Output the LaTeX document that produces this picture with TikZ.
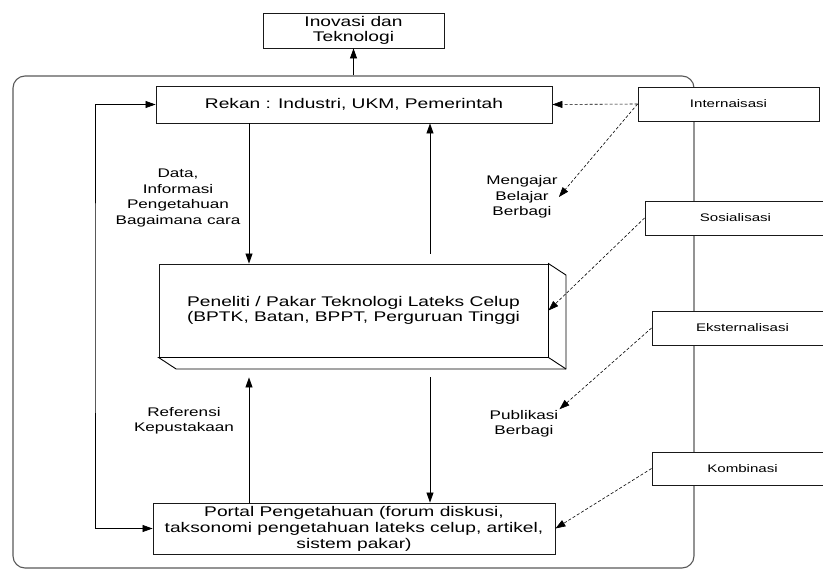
\documentclass[tikz,border=0pt]{standalone}
\usepackage{fontspec}
\setmainfont{Liberation Sans}[FakeStretch=1.37]
\usetikzlibrary{arrows.meta,calc}

\begin{document}
\begin{tikzpicture}[x=1pt,y=-1pt,
  >={Triangle[length=10pt,width=7pt]},
  box/.style={draw=black!90,line width=0.9pt,fill=white,inner sep=0pt,align=center,
    font=\fontsize{14}{15.5}\selectfont},
  sidebox/.style={draw=black!90,line width=0.9pt,fill=white,inner sep=0pt,
    minimum width=181pt,font=\fontsize{11}{13}\selectfont},
  lbl/.style={inner sep=1pt,align=center,font=\fontsize{12.5}{15.5}\selectfont},
  flow/.style={->,line width=0.8pt},
  hint/.style={->,line width=0.6pt,dash pattern=on 3pt off 2pt}]
\useasboundingbox (0,0) rectangle (823,570);
\clip (0,0) rectangle (823,570);

% enclosing frame
\node[draw=black!65,line width=1.1pt,rounded corners=12pt,minimum width=681pt,
  minimum height=492pt,inner sep=0pt] (frame) at (353.5,322) {};

% main boxes
\node[box,minimum width=181pt,minimum height=35pt] (inov) at (353.5,30.5)
  {Inovasi dan\\Teknologi};
\node[box,minimum width=396pt,minimum height=37pt] (rekan) at (354,104.5)
  {Rekan : Industri, UKM, Pemerintah};
\node[box,minimum width=389pt,minimum height=93pt] (pen) at (353.5,310.5)
  {Peneliti / Pakar Teknologi Lateks Celup\\(BPTK, Batan, BPPT, Perguruan Tinggi};
\node[box,minimum width=402pt,minimum height=51pt,font=\fontsize{14}{16}\selectfont]
  (portal) at (354,528.5)
  {Portal Pengetahuan (forum diskusi,\\taksonomi pengetahuan lateks celup, artikel,\\sistem pakar)};

% depth faces of the researcher block
\path (pen.south west) ++(17.5,11.5) coordinate (pbl);
\path (pen.south east) ++(17.5,11.5) coordinate (pbr);
\path (pen.north east) ++(17.5,11.5) coordinate (ptr);
\draw[line width=0.9pt,fill=white] (pen.south west) -- (pbl) -- (pbr) -- (ptr)
  -- (pen.north east) -- (pen.south east) -- cycle;
\draw[line width=0.9pt] (pen.south east) -- (pbr);

% SECI boxes on the right
\node[sidebox,minimum height=34pt] (intern) at (728.5,104) {Internaisasi};
\node[sidebox,minimum height=34pt] (sosial) at (735.5,218) {Sosialisasi};
\node[sidebox,minimum height=34pt] (ekstern) at (742.5,328) {Eksternalisasi};
\node[sidebox,minimum height=33pt] (kombi) at (742.5,468.5) {Kombinasi};

% labels
\node[lbl] (data) at (178,198) {Data,\\Informasi\\Pengetahuan\\Bagaimana cara};
\node[lbl] (ajar) at (522,197) {Mengajar\\Belajar\\Berbagi};
\node[lbl] (refer) at (184,421) {Referensi\\Kepustakaan};
\node[lbl] (publ) at (524,424) {Publikasi\\Berbagi};

% solid flows
\coordinate (xl) at (249,0);
\coordinate (xr) at (430,0);
\coordinate (lp) at (95,300);
\draw[flow] (frame.north) -- (inov.south);
\draw[flow] (rekan.south -| xl) -- (pen.north -| xl);
\draw[flow] ([yshift=10pt]pen.north -| xr) -- (rekan.south -| xr);
\draw[flow] ([yshift=-20pt]pen.south -| xr) -- (portal.north -| xr);
\draw[flow] (portal.north -| xl) -- ([yshift=-20pt]pen.south -| xl);
\draw[flow,<->] (rekan.west) -| (lp) |- (portal.west);

% dashed hints
\draw[hint] (intern.west) -- (rekan.east);
\draw[hint] (intern.west) -- (ajar.east);
\draw[hint] (sosial.west) -- (pen.east);
\draw[hint] (ekstern.west) -- (publ.north east);
\draw[hint] (kombi.west) -- (portal.east);
\end{tikzpicture}
\end{document}
